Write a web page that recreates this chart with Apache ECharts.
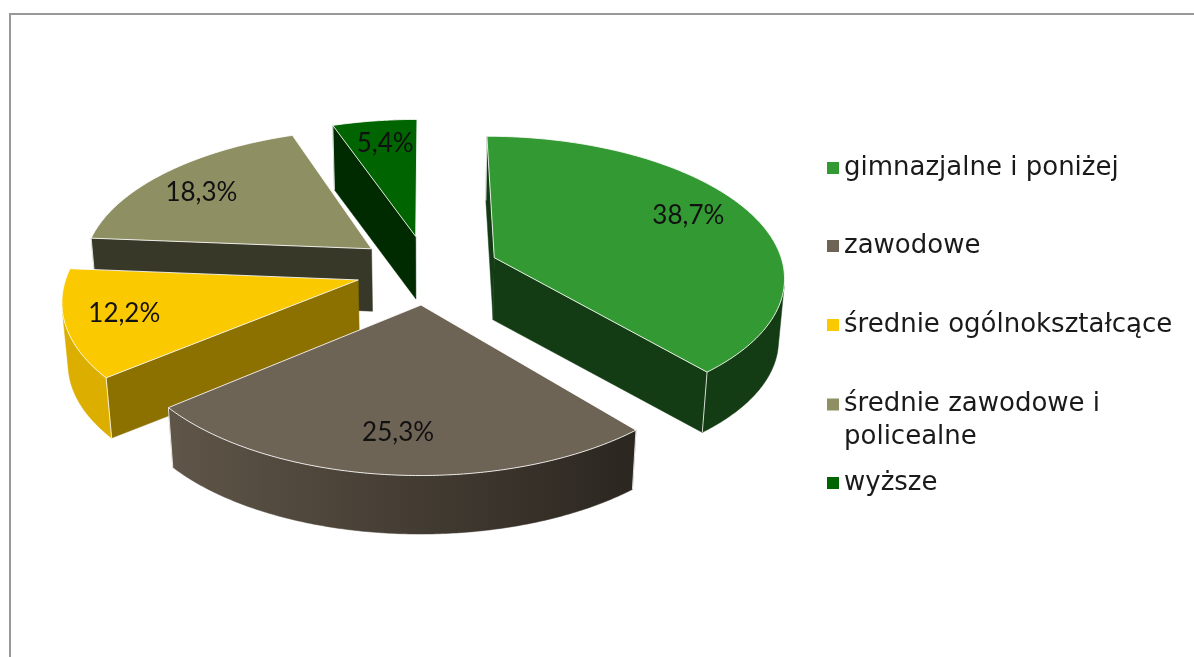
<!DOCTYPE html>
<html>
<head>
<meta charset="utf-8">
<style>
  html, body { margin: 0; padding: 0; background: #fff; }
  #chart { width: 1194px; height: 657px; }
</style>
<script src="https://cdn.jsdelivr.net/npm/echarts@6/dist/echarts.min.js"></script>
</head>
<body>
<div id="chart"></div>
<script>
// dane
const categories = ["gimnazjalne i poniżej", "zawodowe", "średnie ogólnokształcące", "średnie zawodowe i policealne", "wyższe"];
const shares = [38.7, 25.3, 12.2, 18.3, 5.4];
const shareLabels = ["38,7%", "25,3%", "12,2%", "18,3%", "5,4%"];

// kolory: wierzch, sciana boczna (ciecie), sciana zewnetrzna lewa/prawa
const topColors = ["#339933", "#6e6455", "#fbc900", "#8e9063", "#006400"];
const cutColors = ["#143c14", "#2d2822", "#8c7000", "#383828", "#002b00"];
const rimColors = [["#143c14", "#143c14"], ["#5f5548", "#2b2620"], ["#dcae00", "#dcae00"], ["#383828", "#383828"], ["#002b00", "#002b00"]];
// kolejnosc malowania (z tylu do przodu)
const paintOrder = [2, 4, 3, 1, 0];
// polozenie etykiet: promien i przesuniecie kata w stopniach
const labelRadius = [0.79, 0.76, 0.80, 0.79, 0.81];
const labelShift = [-5, 0, 2, -2, 1];

// rzut perspektywiczny kola
const cx = 427.5, cy = 269.5, R = 290, Rk = 139.4, persp = 0.1253;
const explode = 0.248, wallH = 62, lowShrink = 0.983;

const total = shares.reduce((a, b) => a + b, 0);
function project(X, Y, low) {
  const s = 1 / (1 - Y * persp);
  let px = cx + R * X * s, py = cy + Rk * Y * s;
  if (low) {
    px = cx + (px - cx) * lowShrink;
    py = cy + (py - cy) * lowShrink + wallH;
  }
  return [px, py];
}

function sliceShapes(i, api) {
  const before = shares.slice(0, i).reduce((a, b) => a + b, 0);
  const a0 = before / total * Math.PI * 2;
  const a1 = a0 + api.value(0) / total * Math.PI * 2;
  const mid = (a0 + a1) / 2;
  const ox = explode * Math.sin(mid), oy = -explode * Math.cos(mid);
  const pt = (t, r, low) => project(ox + r * Math.sin(t), oy - r * Math.cos(t), low);
  const cross = (a, b, c) => (b[0] - a[0]) * (c[1] - a[1]) - (b[1] - a[1]) * (c[0] - a[0]);

  const n = Math.max(8, Math.round((a1 - a0) / 0.01));
  const angs = [];
  for (let k = 0; k <= n; k++) angs.push(a0 + (a1 - a0) * k / n);

  const children = [];
  const apexT = pt(0, 0, false), apexB = pt(0, 0, true);

  // sciany ciecia (prawie niewidoczne pomijamy)
  [[a0, -1], [a1, 1]].forEach(([t, sign]) => {
    const rimT = pt(t, 1, false), rimB = pt(t, 1, true);
    if (cross(apexT, rimT, apexB) * sign > 200) {
      children.push({
        type: "polygon",
        shape: { points: [apexT, rimT, rimB, apexB] },
        style: { fill: cutColors[i], stroke: cutColors[i], lineWidth: 0.5 }
      });
    }
  });

  // sciana zewnetrzna
  let run = [];
  const runs = [];
  for (let k = 0; k < n; k++) {
    const a = pt(angs[k], 1, false), b = pt(angs[k + 1], 1, false), c = pt(angs[k], 1, true);
    if (cross(a, b, c) < 0) {
      if (!run.length) run.push(angs[k]);
      run.push(angs[k + 1]);
    } else if (run.length) {
      runs.push(run);
      run = [];
    }
  }
  if (run.length) runs.push(run);
  runs.forEach(r => {
    const up = r.map(t => pt(t, 1, false));
    const low = r.map(t => pt(t, 1, true)).reverse();
    const fill = new echarts.graphic.LinearGradient(171, 0, 634, 0, [
      { offset: 0, color: rimColors[i][0] },
      { offset: 1, color: rimColors[i][1] }
    ], true);
    children.push({
      type: "polygon",
      shape: { points: up.concat(low) },
      style: { fill: fill, stroke: fill, lineWidth: 0.5 }
    });
  });

  // jasne krawedzie pionowe
  [a0, a1].forEach(t => {
    const p = pt(t, 1, false), q = pt(t, 1, true);
    const onRun = runs.some(r => r[0] === t || r[r.length - 1] === t);
    const sign = t === a0 ? -1 : 1;
    if (onRun || cross(apexT, p, apexB) * sign > 200) {
      children.push({
        type: "line",
        shape: { x1: p[0], y1: p[1], x2: q[0], y2: q[1] },
        style: { stroke: "rgba(255,255,255,0.8)", lineWidth: 1 }
      });
    }
  });

  // wierzch
  const topPts = [apexT].concat(angs.map(t => pt(t, 1, false)));
  children.push({
    type: "polygon",
    shape: { points: topPts },
    style: { fill: topColors[i], stroke: "rgba(255,255,255,0.85)", lineWidth: 1 }
  });

  // etykieta
  const lp = pt(mid + labelShift[i] * Math.PI / 180, labelRadius[i], false);
  children.push({
    type: "text",
    style: {
      x: lp[0], y: lp[1] + 2.5, text: shareLabels[i], fill: "#111",
      font: "26px Lato, sans-serif", align: "center", verticalAlign: "middle"
    }
  });
  return { type: "group", children: children };
}

const legendCenters = [168, 246, 325, 421, 483];
const legendFormatter = name => name === categories[3] ? "średnie zawodowe i\npolicealne" : name;

const option = {
  backgroundColor: "#fff",
  animation: false,
  graphic: [{
    type: "polyline",
    shape: { points: [[10, 657], [10, 14], [1194, 14]] },
    style: { fill: null, stroke: "#999", lineWidth: 2 }
  }],
  legend: categories.map((name, i) => {
    const two = i === 3;
    return {
      data: [name],
      left: 827,
      top: legendCenters[i] - (two ? 33 : 16.5),
      padding: 0,
      orient: "vertical",
      selectedMode: false,
      itemWidth: 12,
      itemHeight: two ? 66 : 12,
      icon: two ? "path://M0,10.5H12V22.5H0Z M0,0L0,0Z M0,66L0,66Z" : "rect",
      formatter: legendFormatter,
      textStyle: { fontFamily: "DejaVu Sans", fontSize: 26, color: "#1a1a1a", lineHeight: 33 }
    };
  }),
  series: categories.map((name, i) => ({
    type: "custom",
    name: name,
    coordinateSystem: "none",
    z: 2 + paintOrder[i],
    itemStyle: { color: topColors[i] },
    silent: true,
    data: [[shares[i]]],
    renderItem: (params, api) => sliceShapes(i, api)
  }))
};

const mychart = echarts.init(document.getElementById("chart"));
mychart.setOption(option);
</script>
</body>
</html>
